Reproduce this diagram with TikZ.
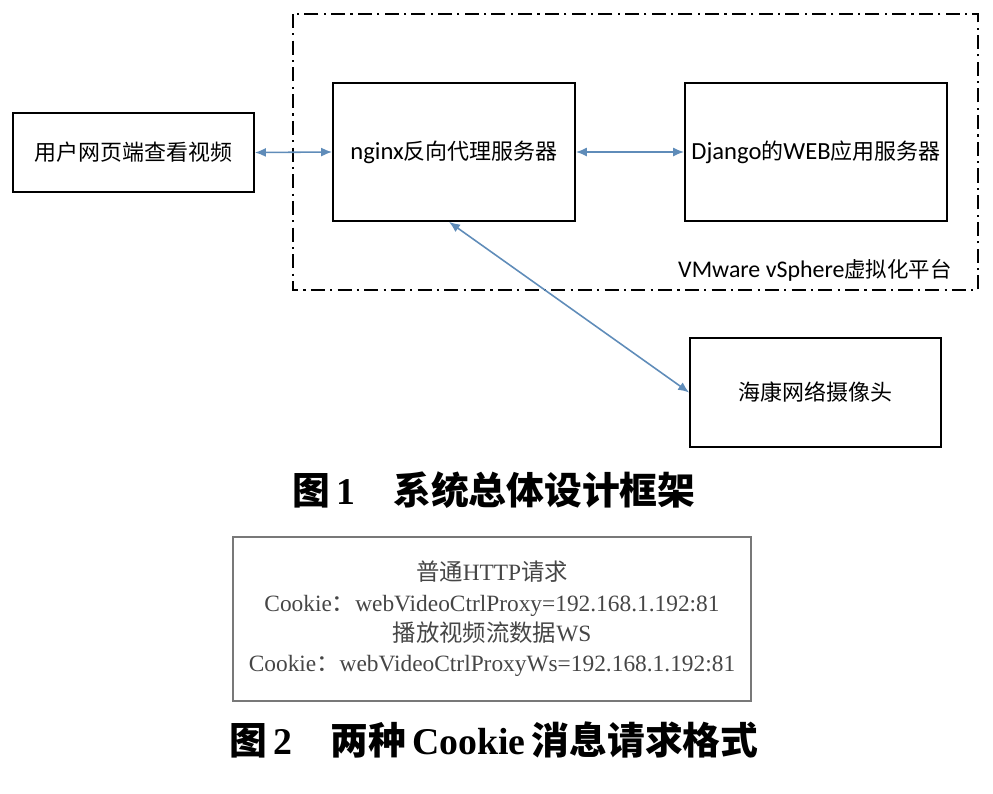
\documentclass[tikz,border=0pt]{standalone}
\usepackage{fontspec}
\setmainfont{Liberation Serif}
\newfontfamily\hei{Noto Sans CJK SC}
\newfontfamily\cali{Carlito}
\usetikzlibrary{arrows.meta, positioning}
\definecolor{pfeil}{RGB}{95,140,185}
\definecolor{grau}{RGB}{120,120,120}
\definecolor{schrift}{RGB}{70,70,70}

\begin{document}
\begin{tikzpicture}[x=0.2mm, y=-0.2mm,
        box/.style={draw, line width=1pt, inner sep=0pt,
                    font=\hei\fontsize{12.5}{15}\selectfont},
        arr/.style={{Latex[length=2.2mm,width=1.8mm]}-{Latex[length=2.2mm,width=1.8mm]},
                    line width=0.9pt, pfeil},
        rahmen/.style={line width=0.9pt, dash pattern=on 8pt off 3pt on 1.2pt off 3pt},
        titel/.style={font=\bfseries\fontsize{21.5}{25}\selectfont}
      ]
      \useasboundingbox (0,0) rectangle (993,793);

      % Virtualisierungsplattform
      \draw[rahmen] (293,14) rectangle (978,290);
      \node[font=\hei\fontsize{12.2}{15}\selectfont, anchor=east, inner sep=0pt] (vsphere) at (952,270)
        {{\cali\fontsize{13.6}{15}\selectfont VMware vSphere}虚拟化平台};

      % Knoten (feste Positionen)
      \node[box, minimum width=48.2mm, minimum height=15.8mm] (nutzer) at (133.5,152.5) {用户网页端查看视频};
      \node[box, minimum width=48.4mm, minimum height=27.6mm] (nginx) at (454,152)
        {{\cali\fontsize{14}{15}\selectfont nginx}反向代理服务器};
      \node[box, minimum width=52.4mm, minimum height=27.6mm] (django) at (816,152)
        {{\cali\fontsize{14}{15}\selectfont Django}的{\cali\fontsize{14}{15}\selectfont WEB}应用服务器};
      \node[box, minimum width=50.2mm, minimum height=21.8mm] (kamera) at (815.5,392.5) {海康网络摄像头};

      % Pfeile
      \draw[arr] (nutzer.east) -- (nginx.west);
      \draw[arr] (nginx.east) -- (django.west);
      \draw[arr] ([xshift=-1mm]nginx.south) -- (kamera.west);

      % Bildunterschrift 1
      \node[titel] (bild1) at (494,490) {{\hei 图}\,1\quad{\hei 系统总体设计框架}};

      % Cookie-Formate
      \node[draw=grau, line width=1.2pt, minimum width=103.6mm, minimum height=32.8mm,
            align=center, text=schrift, font=\fontsize{13.3}{17.3}\selectfont] (cookie) at (492,619)
        {{\hei 普通}HTTP{\hei 请求}\\
         Cookie{\hei ：}webVideoCtrlProxy=192.168.1.192:81\\
         {\hei 播放视频流数据}WS\\
         Cookie{\hei ：}webVideoCtrlProxyWs=192.168.1.192:81};

      % Bildunterschrift 2
      \node[titel] (bild2) at (494,740) {{\hei 图}\,2\quad{\hei 两种}\,Cookie\,{\hei 消息请求格式}};
    \end{tikzpicture}
\end{document}
